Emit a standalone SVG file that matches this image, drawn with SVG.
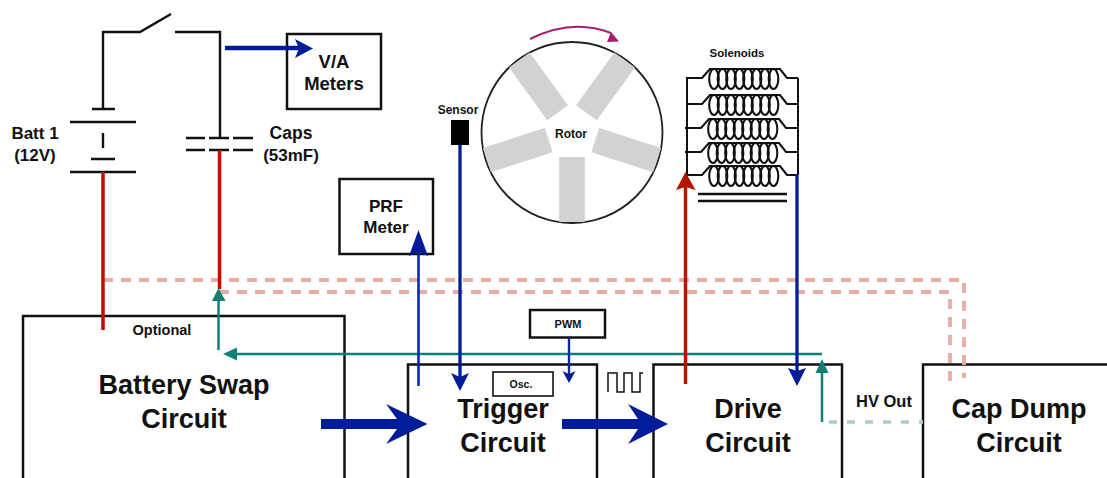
<svg xmlns="http://www.w3.org/2000/svg" xmlns:xlink="http://www.w3.org/1999/xlink" width="1107" height="478" viewBox="0 0 1107 478">
<style>
text{font-family:"Liberation Sans",Arial,sans-serif;font-weight:700;fill:#111;text-anchor:middle}
.box{fill:none;stroke:#111;stroke-width:2.5}
.wire{fill:none;stroke:#111;stroke-width:2.4}
.thin{fill:none;stroke:#111;stroke-width:1.8}
.red{fill:none;stroke:#b81400;stroke-width:3.500}
.blue{fill:none;stroke:#001c98;stroke-width:3.300}
.blue2{fill:none;stroke:#0a2aa0;stroke-width:2.600}
.teal{fill:none;stroke:#117f74;stroke-width:2.500}
.pink{fill:none;stroke:#e8aea2;stroke-width:3.800;stroke-dasharray:10 8}
.tealdash{fill:none;stroke:#a6cfc7;stroke-width:3.400;stroke-dasharray:8 10}
.big{fill:#001c98}
.ft{fill:#117f74}
.fb{fill:#001c98}
.big-t{font-size:27px}
.spoke{fill:#d2d2d2}
.coil ellipse{fill:none;stroke:#111;stroke-width:2.100}
.coil path{fill:none;stroke:#111;stroke-width:2.100}
</style>
<defs>
<g id="coil" class="coil">
<path d="M0 0H16L24 -9H94L101 0H112"/>
<ellipse cx="28" cy="1" rx="4.800" ry="10"/>
<ellipse cx="36.500" cy="1" rx="4.800" ry="10"/>
<ellipse cx="45" cy="1" rx="4.800" ry="10"/>
<ellipse cx="53.500" cy="1" rx="4.800" ry="10"/>
<ellipse cx="62" cy="1" rx="4.800" ry="10"/>
<ellipse cx="70.500" cy="1" rx="4.800" ry="10"/>
<ellipse cx="79" cy="1" rx="4.800" ry="10"/>
<ellipse cx="87.500" cy="1" rx="4.800" ry="10"/>
</g>
<rect id="spoke" class="spoke" x="-12.800" y="24.500" width="25.600" height="65"/>
</defs>

<g id="battery-swap"><path class="box" d="M23 478V316H344.500V478"/><text class="big-t" x="184" y="394">Battery Swap</text><text class="big-t" x="184" y="428">Circuit</text><text x="162" y="335" font-size="14.500">Optional</text></g>
<g id="trigger"><path class="box" d="M408 478V364.500H597V478"/><text class="big-t" x="503" y="418">Trigger</text><text class="big-t" x="503" y="452">Circuit</text></g>
<g id="osc"><rect class="box" style="stroke-width:1.600" x="493" y="372" width="60" height="24"/><text x="521" y="388" font-size="10.500">Osc.</text></g>
<g id="pwm"><rect class="box" x="530" y="310" width="75" height="27.500"/><text x="568" y="328" font-size="11">PWM</text></g>
<g id="drive"><path class="box" d="M653.500 478V364.500H842V478"/><text class="big-t" x="748" y="418">Drive</text><text class="big-t" x="748" y="452">Circuit</text></g>
<g id="cap-dump"><path class="box" d="M923 478V364.500H1107"/><text class="big-t" x="1019" y="418">Cap Dump</text><text class="big-t" x="1019" y="452">Circuit</text></g>
<g id="va-meters"><rect class="box" x="287" y="34" width="94" height="75"/><text x="334" y="68" font-size="18.500">V/A</text><text x="334" y="90" font-size="18.500">Meters</text></g>
<g id="prf-meter"><rect class="box" x="339.500" y="179" width="93.500" height="75"/><text x="386" y="212" font-size="17">PRF</text><text x="386" y="233" font-size="17">Meter</text></g>
<g id="battery"><path class="wire" d="M92 109H115M70 122H136M103 133V148M91 159H115M70 172H136"/><text x="35" y="139" font-size="17">Batt 1</text><text x="35" y="161" font-size="17">(12V)</text></g>
<g id="caps"><path class="wire" d="M186 138H205M209 138H229M233 138H253M186 150H205M209 150H229M233 150H253"/><text x="291" y="139" font-size="17.500">Caps</text><text x="291" y="161" font-size="17">(53mF)</text></g>
<g id="switch"><path class="wire" d="M103 109V32H140L171 14M175 32H220V138"/></g>
<g id="sensor"><rect x="451" y="120" width="18" height="25" fill="#000"/><text x="458" y="114" font-size="12">Sensor</text></g>
<g id="rotor">
<circle cx="572" cy="132.500" r="90.500" fill="#fff" stroke="#222" stroke-width="1.800"/>
<use xlink:href="#spoke" href="#spoke" transform="translate(572 132.500)"/>
<use xlink:href="#spoke" href="#spoke" transform="translate(572 132.500) rotate(72)"/>
<use xlink:href="#spoke" href="#spoke" transform="translate(572 132.500) rotate(144)"/>
<use xlink:href="#spoke" href="#spoke" transform="translate(572 132.500) rotate(216)"/>
<use xlink:href="#spoke" href="#spoke" transform="translate(572 132.500) rotate(288)"/>
<text x="571" y="138" font-size="12">Rotor</text>
<path d="M530 39Q572 18 611 33" fill="none" stroke="#a81c6e" stroke-width="2"/>
<path d="M611 32L619 41.500L607 42Z" fill="#a81c6e"/>
</g>
<g id="solenoids">
<text x="737" y="57" font-size="11.500">Solenoids</text>
<path class="thin" d="M687 78V175M798 78V175" style="stroke-width:2"/>
<use xlink:href="#coil" href="#coil" x="686" y="78"/>
<use xlink:href="#coil" href="#coil" x="686" y="104"/>
<use xlink:href="#coil" href="#coil" x="685" y="128"/>
<use xlink:href="#coil" href="#coil" x="685" y="152"/>
<use xlink:href="#coil" href="#coil" x="686" y="175"/>
<path class="wire" d="M698 194H787M698 201H787"/>
</g>
<g id="pulse"><path class="thin" d="M608 392V373H617V392H624V373H632V392H640V373H643" style="stroke-width:1.500"/></g>
<g id="hv-out"><text x="884" y="407" font-size="16.500">HV Out</text></g>

<g id="connectors">
<path class="pink" d="M103 280H964V378"/>
<path class="pink" d="M219 292H950V384"/>
<path class="tealdash" d="M829 422H923"/>
<path class="red" d="M103 172V330"/>
<path class="red" d="M219.500 150V289"/>
<path class="blue" d="M225 48H300" style="stroke-width:4.500"/>
<path class="fb" d="M295 39L313 48.500L295 58L299 48.500Z"/>
<path class="teal" d="M218.500 350V298"/>
<path class="ft" d="M218.500 288L225.500 301H212Z"/>
<path class="teal" d="M822 354H232"/>
<path class="ft" d="M223 354L237 347.500V360.500Z"/>
<path class="blue2" d="M418.500 386V240"/>
<path class="fb" d="M418.500 230L428 256L418.500 252L409 256Z"/>
<path class="blue" d="M460 145V380"/>
<path class="fb" d="M460 391L451 373L460 377L469 373Z"/>
<path class="blue2" d="M569 338V375" style="stroke-width:2.400"/>
<path class="fb" d="M569 383L562.500 371L569 374L575.500 371Z"/>
<path class="red" d="M685.500 384V185"/>
<path d="M685.500 172L695.500 190L685.500 187L676 190Z" fill="#b81400"/>
<path class="blue" d="M797 174V375"/>
<path class="fb" d="M797 386L788 368L797 371L806 368Z"/>
<path class="teal" d="M822 422V368"/>
<path class="ft" d="M822 359L828.500 373H815.500Z"/>
<path class="big" d="M321 419H397L386 404L427.500 424L386 444L397 429H321Z"/>
<path class="big" d="M562 419H638L628 404L668 424L628 444L638 429H562Z"/>
</g>
</svg>
